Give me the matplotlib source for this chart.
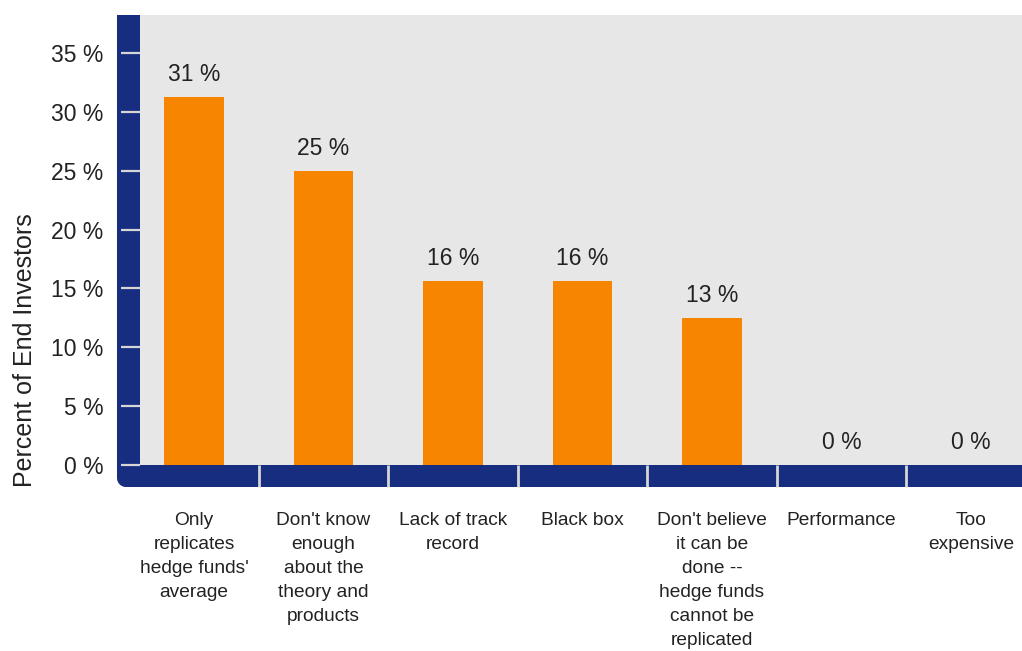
import numpy as np
import matplotlib
matplotlib.use("Agg")
from matplotlib import pyplot as plt
from matplotlib.patches import PathPatch
from matplotlib.path import Path

# data (32 respondents -> 10, 8, 5, 5, 4, 0, 0)
categories = [
    "Only\nreplicates\nhedge funds'\naverage",
    "Don't know\nenough\nabout the\ntheory and\nproducts",
    "Lack of track\nrecord",
    "Black box",
    "Don't believe\nit can be\ndone --\nhedge funds\ncannot be\nreplicated",
    "Performance",
    "Too\nexpensive",
]
values = [31.25, 25.0, 15.625, 15.625, 12.5, 0.0, 0.0]
bar_labels = ["31 %", "25 %", "16 %", "16 %", "13 %", "0 %", "0 %"]
yticks = [0, 5, 10, 15, 20, 25, 30, 35]

navy = "#172d80"
orange = "#f88500"
gray_bg = "#e7e7e7"
tick_col = "#d6d6d6"
txt_col = "#222222"

plt.rcParams['font.family'] = ['Liberation Sans', 'DejaVu Sans']

W, H = 1022, 651
fig = plt.figure(figsize=(W / 100, H / 100), dpi=100)

# axes box in pixels (left, right, top, bottom from top of image)
ax_l, ax_r, ax_t, ax_b = 140, 1022, 15, 465
ax = fig.add_axes([ax_l / W, 1 - ax_b / H, (ax_r - ax_l) / W, (ax_b - ax_t) / H])
ax.set_facecolor(gray_bg)

# navy L band with rounded bottom-left corner
band_l, band_b, r = 117, 487, 9
pts = [(band_l, ax_t), (ax_l, ax_t), (ax_l, ax_b), (W + 5, ax_b), (W + 5, band_b)]
for a in np.linspace(0.5 * np.pi, np.pi, 12):
    cx, cy = band_l + r, band_b - r
    pts.append((cx + r * np.cos(a), cy + r * np.sin(a)))
pts.append((band_l, ax_t))
pts = np.array(pts, dtype=float)
pts[:, 0] = pts[:, 0] / W
pts[:, 1] = 1 - pts[:, 1] / H
fig.patches.append(PathPatch(Path(pts), facecolor=navy, edgecolor='none',
                             transform=fig.transFigure, zorder=-1))

x = np.arange(len(categories))
bars = ax.bar(x, values, width=0.46, color=orange, zorder=2)
for b, lab in zip(bars, bar_labels):
    ax.annotate(lab, (b.get_x() + b.get_width() / 2, b.get_height()),
                xytext=(0, 8), textcoords='offset points', ha='center', va='bottom',
                fontsize=16.5, color=txt_col)

step = 129.5
x0 = 194
ax.set_xlim((ax_l - x0) / step, (ax_r - x0) / step)
ax.set_ylim(0, (ax_b - ax_t) / (58.86 / 5))

for s in ax.spines.values():
    s.set_visible(False)

ax.set_yticks(yticks)
ax.set_yticklabels([f"{v} %" for v in yticks], fontsize=16.5, color=txt_col)
ax.tick_params(axis='y', direction='out', length=13.5, width=1.6, color=tick_col, pad=13)

ax.set_xticks(x)
ax.set_xticklabels(categories, fontsize=13.8, color=txt_col, linespacing=1.54, va='top')
ax.tick_params(axis='x', which='major', length=0, pad=34)
ax.set_xticks(x[:-1] + 0.5, minor=True)
ax.tick_params(axis='x', which='minor', direction='out', length=16, width=2, color=tick_col)

fig.text(25 / W, 1 - 350 / H, "Percent of End Investors", rotation=90,
         ha='center', va='center', fontsize=18, color=txt_col)

fig.savefig("out.png", dpi=100)
